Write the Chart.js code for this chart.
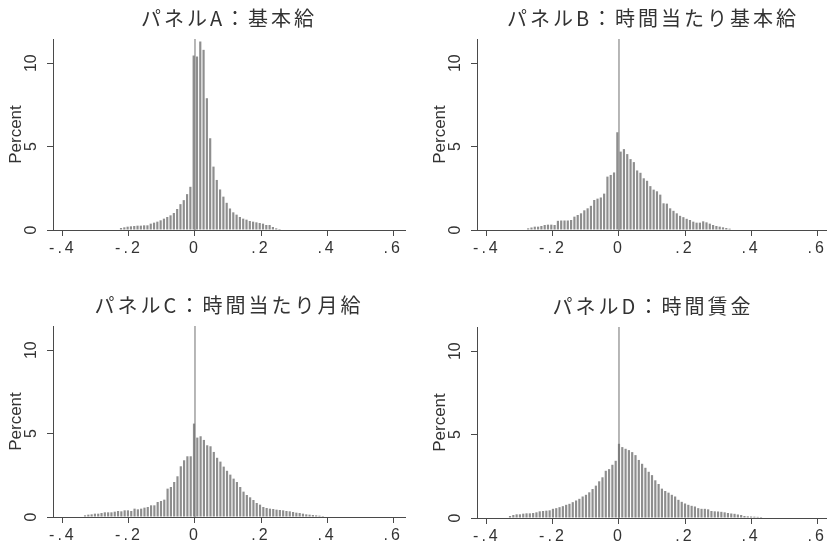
<!DOCTYPE html>
<html>
<head>
<meta charset="utf-8">
<script src="https://cdn.jsdelivr.net/npm/chart.js@4.4.0/dist/chart.umd.min.js"></script>
<style>
  html, body { margin: 0; padding: 0; background: #fff; }
  body { width: 827px; height: 548px; position: relative; overflow: hidden; }
  canvas { position: absolute; }
</style>
</head>
<body>
<canvas id="panelA" width="414" height="274" style="left:0px;top:0px"></canvas>
<canvas id="panelB" width="414" height="274" style="left:424px;top:0px"></canvas>
<canvas id="panelC" width="414" height="274" style="left:0px;top:287px"></canvas>
<canvas id="panelD" width="414" height="274" style="left:424px;top:288px"></canvas>
<script>
    // 0.01刻みのビン (値はビン中心の位置と各ビンの Percent)
    const binWidth = 0.01;

    // パネルA：基本給
    const titleA = 'パネルA：基本給';
    const firstBinA = -0.224;
    const percentA = [
      0.12, 0.16, 0.2, 0.22, 0.24, 0.26, 0.26, 0.28, 0.28, 0.38, 0.44,
      0.5, 0.58, 0.68, 0.78, 0.88, 1.02, 1.26, 1.55, 1.79, 2.15, 2.59,
      10.46, 10.4, 11.3, 10.8, 7.9, 5.5, 3.8, 3.0, 2.43, 2.0, 1.63, 1.29,
      1.06, 0.92, 0.78, 0.68, 0.62, 0.54, 0.5, 0.46, 0.42, 0.38, 0.3, 0.3,
      0.18, 0.1, 0.06
    ];

    // パネルB：時間当たり基本給
    const titleB = 'パネルB：時間当たり基本給';
    const firstBinB = -0.275;
    const percentB = [
      0.1, 0.15, 0.2, 0.2, 0.24, 0.3, 0.32, 0.32, 0.3, 0.55, 0.57, 0.57,
      0.57, 0.6, 0.8, 0.9, 1.0, 1.18, 1.3, 1.45, 1.8, 1.88, 1.95, 2.18,
      3.2, 3.3, 3.45,
      5.86,
      4.7, 4.85, 4.55, 4.25, 4.07, 3.57, 3.43, 3.1, 2.95, 2.63, 2.42, 2.32,
      2.12, 1.6, 1.58, 1.3, 1.15, 1.0, 0.85, 0.77, 0.67, 0.6, 0.5, 0.44,
      0.44, 0.52, 0.46, 0.38, 0.3, 0.24, 0.2, 0.16, 0.12, 0.08
    ];

    // パネルC：時間当たり月給
    const titleC = 'パネルC：時間当たり月給';
    const firstBinC = -0.333;
    const percentC = [
      0.1, 0.14, 0.16, 0.2, 0.2, 0.24, 0.28, 0.28, 0.28, 0.32, 0.36, 0.34,
      0.4, 0.4, 0.36, 0.5, 0.46, 0.5, 0.56, 0.6, 0.7, 0.7, 0.9, 0.96,
      1.04, 1.7, 1.8, 2.1, 2.44, 3.04, 3.4, 3.64, 3.64,
      5.6,
      4.76, 4.84, 4.62, 4.3, 4.24, 3.9, 3.55, 3.32, 3.02, 2.77, 2.54, 2.3,
      2.1, 1.8, 1.52, 1.32, 1.18, 1.02, 0.84, 0.74, 0.6, 0.54, 0.5, 0.48,
      0.44, 0.42, 0.4, 0.36, 0.34, 0.3, 0.26, 0.24, 0.2, 0.16, 0.14, 0.12,
      0.1, 0.08, 0.06
    ];

    // パネルD：時間賃金
    const titleD = 'パネルD：時間賃金';
    const firstBinD = -0.33;
    const percentD = [
      0.12, 0.18, 0.22, 0.22, 0.26, 0.28, 0.28, 0.3, 0.34, 0.4, 0.42, 0.44,
      0.46, 0.55, 0.59, 0.65, 0.71, 0.79, 0.85, 0.95, 1.05, 1.15, 1.29, 1.39,
      1.54, 1.74, 1.94, 2.2, 2.44, 2.83, 2.93, 3.19, 3.43,
      4.45,
      4.25, 4.15, 4.07, 3.95, 3.77, 3.48, 3.25, 3.01, 2.77, 2.57, 2.26, 2.04,
      1.76, 1.62, 1.52, 1.39, 1.29, 1.09, 0.97, 0.87, 0.79, 0.73, 0.69, 0.59,
      0.55, 0.55, 0.52, 0.42, 0.4, 0.39, 0.37, 0.34, 0.3, 0.27, 0.25, 0.21,
      0.18, 0.12, 0.1, 0.09, 0.08, 0.07, 0.06
    ];

    // 軸
    const xTickValues = [-0.4, -0.2, 0, 0.2, 0.4, 0.6];
    const xTickLabels = ['-.4', '-.2', '0', '.2', '.4', '.6'];
    const yTickValues = [0, 5, 10];
    const yTickLabels = ['0', '5', '10'];
    const yAxisTitle = 'Percent';
    const xMin = -0.43, xMax = 0.636, yMax = 11.45;

    const inkColor = '#333333';
    const axisColor = '#4a4a4a';
    const latinFont = '"Liberation Sans", Arial, sans-serif';

    // 字間を空ける (タイトルと x 目盛) + y 目盛ラベルを90度回転
    const stataTextPlugin = {
      id: 'stataText',
      beforeDraw(chart) {
        chart.ctx.letterSpacing = '3px';
      },
      afterDatasetsDraw(chart) {
        chart.ctx.letterSpacing = '0px';
      },
      afterDraw(chart) {
        const ctx = chart.ctx;
        const ys = chart.scales.y;
        ctx.save();
        ctx.letterSpacing = '0px';
        ctx.font = '16px ' + latinFont;
        ctx.fillStyle = inkColor;
        ctx.textAlign = 'center';
        ctx.textBaseline = 'middle';
        ys.ticks.forEach(t => {
          const idx = yTickValues.indexOf(t.value);
          ctx.save();
          ctx.translate(ys.right - 21, ys.getPixelForValue(t.value));
          ctx.rotate(-Math.PI / 2);
          ctx.fillText(yTickLabels[idx], 0, 0);
          ctx.restore();
        });
        ctx.restore();
      }
    };

    function makeHistogram(canvasId, title, firstBin, values) {
      const points = values.map((v, i) => ({ x: firstBin + i * binWidth, y: v }));
      const ctx = document.getElementById(canvasId).getContext('2d');
      return new Chart(ctx, {
        type: 'bar',
        data: {
          datasets: [{
            label: title,
            data: points,
            backgroundColor: '#8e8e8e',
            borderWidth: 0,
            categoryPercentage: 1,
            barPercentage: 0.66,
            order: 1
          }, {
            type: 'line',
            label: 'x = 0',
            data: [{ x: 0, y: 0 }, { x: 0, y: yMax }],
            borderColor: '#707070',
            borderWidth: 1,
            pointRadius: 0,
            order: 0
          }]
        },
        options: {
          responsive: false,
          devicePixelRatio: 1,
          animation: false,
          layout: { padding: { left: 0, right: 9, top: 0, bottom: 0 } },
          plugins: {
            legend: { display: false },
            tooltip: { enabled: false },
            title: {
              display: true,
              text: title,
              fullSize: false,
              color: inkColor,
              font: { family: '"Noto Sans CJK JP", sans-serif', size: 20, weight: 'normal', lineHeight: 1.2 },
              padding: { top: 6, bottom: 9 }
            }
          },
          scales: {
            x: {
              type: 'linear',
              min: xMin,
              max: xMax,
              offset: false,
              afterBuildTicks: s => { s.ticks = xTickValues.map(v => ({ value: v })); },
              afterFit: s => { s.height = 44; },
              grid: { display: true, offset: false, drawOnChartArea: false, drawTicks: true, tickLength: 6, color: axisColor },
              border: { display: true, color: axisColor, width: 1 },
              ticks: {
                autoSkip: false,
                maxRotation: 0,
                padding: 3,
                color: inkColor,
                font: { family: latinFont, size: 16 },
                callback: v => xTickLabels[xTickValues.indexOf(v)]
              }
            },
            y: {
              type: 'linear',
              min: 0,
              max: yMax,
              afterBuildTicks: s => { s.ticks = yTickValues.map(v => ({ value: v })); },
              afterFit: s => { s.width = 53; },
              grid: { display: true, z: 1, drawOnChartArea: false, drawTicks: true, tickLength: 6, color: axisColor },
              border: { display: true, z: 1, color: axisColor, width: 1 },
              ticks: { display: false },
              title: {
                display: true,
                text: yAxisTitle,
                color: inkColor,
                font: { family: latinFont, size: 17, lineHeight: 1.2 },
                padding: { top: 6, bottom: 0 }
              }
            }
          }
        },
        plugins: [stataTextPlugin]
      });
    }

    makeHistogram('panelA', titleA, firstBinA, percentA);
    makeHistogram('panelB', titleB, firstBinB, percentB);
    makeHistogram('panelC', titleC, firstBinC, percentC);
    makeHistogram('panelD', titleD, firstBinD, percentD);
</script>
</body>
</html>
